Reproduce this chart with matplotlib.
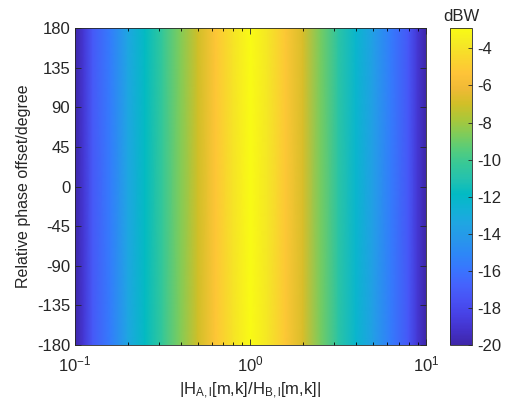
import numpy as np
import matplotlib

matplotlib.use("Agg")
import matplotlib.pyplot as plt
from matplotlib.colors import LinearSegmentedColormap

# values: power (dBW) along the amplitude ratio axis,
# it does not change with the phase offset
log_ratio = [-1.0, -0.95, -0.9, -0.8, -0.7, -0.6, -0.5, -0.4, -0.3, -0.2, -0.1, 0.0,
             0.1, 0.2, 0.3, 0.4, 0.5, 0.6, 0.7, 0.8, 0.9, 0.95, 1.0]
power_db = [-20.0, -18.8, -17.2, -15.6, -13.4, -11.8, -10.3, -8.6, -7.0, -5.3, -4.0, -2.9,
            -3.9, -5.2, -6.8, -8.8, -10.7, -12.3, -13.8, -15.6, -17.3, -18.8, -20.0]
phase_deg = [-180, 180]

y_ticks = [-180, -135, -90, -45, 0, 45, 90, 135, 180]
cbar_ticks = [-20, -18, -16, -14, -12, -10, -8, -6, -4]

# MATLAB parula, a subset of its 64 entries
parula_pts = [
    (0.2422, 0.1504, 0.6603), (0.2647, 0.1978, 0.7952), (0.2783, 0.2559, 0.8991),
    (0.2810, 0.3228, 0.9579), (0.2699, 0.3892, 0.9906), (0.2206, 0.4603, 0.9973),
    (0.1786, 0.5289, 0.9682), (0.1540, 0.5902, 0.9218), (0.1248, 0.6459, 0.8883),
    (0.0689, 0.6948, 0.8394), (0.0067, 0.7312, 0.7660), (0.1408, 0.7584, 0.6842),
    (0.2161, 0.7843, 0.5923), (0.3406, 0.8008, 0.4789), (0.5044, 0.7993, 0.3480),
    (0.6720, 0.7793, 0.2227), (0.8203, 0.7498, 0.1535), (0.9393, 0.7288, 0.2100),
    (0.9970, 0.7659, 0.2199), (0.9786, 0.8386, 0.1766), (0.9597, 0.9135, 0.1423),
    (0.9769, 0.9839, 0.0805),
]
parula = LinearSegmentedColormap.from_list("parula", parula_pts)

plt.rcParams['font.family'] = ['Liberation Sans', 'DejaVu Sans']
plt.rcParams['mathtext.fontset'] = 'custom'
plt.rcParams['mathtext.rm'] = 'Liberation Sans'
plt.rcParams['mathtext.it'] = 'Liberation Sans'
plt.rcParams['axes.unicode_minus'] = False
txt_col = '#262626'

fig = plt.figure(figsize=(5.12, 4.05), dpi=100)
ax = fig.add_axes([0.1465, 0.148, 0.6855, 0.783])
cax = fig.add_axes([0.879, 0.148, 0.043, 0.783])

ratio = 10.0 ** np.array(log_ratio)
grid = np.tile(np.array(power_db), (len(phase_deg), 1))
mesh = ax.pcolormesh(ratio, phase_deg, grid, cmap=parula, shading='gouraud',
                     vmin=-20, vmax=-2.9)

ax.set_xscale('log')
ax.set_xlim(0.1, 10)
ax.set_ylim(-180, 180)
ax.set_yticks(y_ticks)
ax.set_xticks([0.1, 1, 10])
ax.tick_params(direction='in', top=True, right=True, labelsize=12, colors=txt_col,
               length=4, width=0.6)
ax.tick_params(axis='x', pad=7)
ax.tick_params(which='minor', direction='in', top=True, length=2)
for sp in ax.spines.values():
    sp.set_linewidth(0.6)
    sp.set_color(txt_col)

ax.set_xlabel(r'|H$_{\rm A,l}$[m,k]/H$_{\rm B,l}$[m,k]|', fontsize=12, color=txt_col, labelpad=4)
ax.set_ylabel('Relative phase offset/degree', fontsize=11.5, color=txt_col, labelpad=4)

cb = fig.colorbar(mesh, cax=cax)
cb.set_ticks(cbar_ticks)
cb.ax.tick_params(direction='in', labelsize=12, colors=txt_col, length=3, width=0.6)
cb.outline.set_linewidth(0.6)
cb.outline.set_edgecolor(txt_col)
cb.ax.set_title('dBW', fontsize=12, color=txt_col, pad=5)

fig.savefig('out.png', dpi=100)
